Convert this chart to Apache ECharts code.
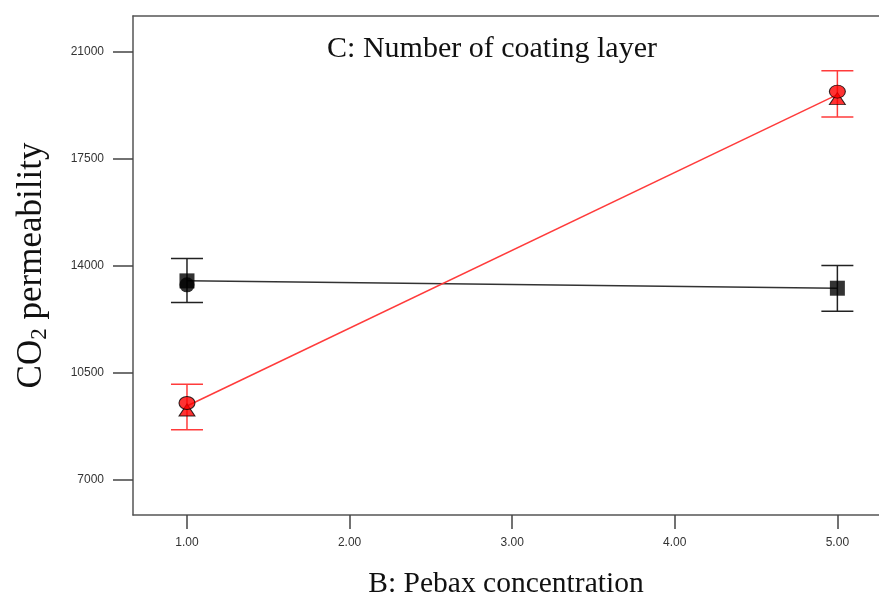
<!DOCTYPE html>
<html>
	<head>
		<meta charset="utf-8">
		<title></title>
		<script type="text/javascript" src="https://cdn.jsdelivr.net/npm/echarts@6/dist/echarts.min.js"></script>
	</head>
	<body style="margin:0">
		<div id="main" style="width: 879px;height:601px;"></div>
	</body>
	<script type="text/javascript">
		// data
		var xTicks = [1, 2, 3, 4, 5];
		var yTicks = [7000, 10500, 14000, 17500, 21000];
		var pebax = [1, 5];
		var blackMean = [13510, 13270];
		var blackLow = [12800, 12520];
		var blackHigh = [14240, 14010];
		var redMean = [9420, 19600];
		var redLow = [8640, 18870];
		var redHigh = [10130, 20380];

		var myChart = echarts.init(document.getElementById('main'));

		function pairs(vals) {
			return pebax.map(function (x, i) { return [x, vals[i]]; });
		}
		function barData(low, high) {
			return pebax.map(function (x, i) { return [x, low[i], high[i]]; });
		}
		function errorBar(color) {
			return function (params, api) {
				var top = api.coord([api.value(0), api.value(2)]);
				var bot = api.coord([api.value(0), api.value(1)]);
				var st = { stroke: color, lineWidth: 1.5 };
				return {
					type: 'group',
					children: [
						{ type: 'line', shape: { x1: top[0], y1: top[1], x2: bot[0], y2: bot[1] }, style: st },
						{ type: 'line', shape: { x1: top[0] - 16, y1: top[1], x2: top[0] + 16, y2: top[1] }, style: st },
						{ type: 'line', shape: { x1: bot[0] - 16, y1: bot[1], x2: bot[0] + 16, y2: bot[1] }, style: st }
					]
				};
			};
		}

		var serif = '"Liberation Serif", "Times New Roman", serif';

		myChart.setOption({
			animation: false,
			title: {
				text: 'C: Number of coating layer',
				left: 487,
				textAlign: 'center',
				top: 29,
				textStyle: { fontFamily: serif, fontSize: 30, fontWeight: 'normal', color: '#111' }
			},
			grid: {
				left: 133, top: 16, right: 0, bottom: 86,
				outerBoundsMode: 'none'
			},
			xAxis: [{
				type: 'value',
				min: 0.668, max: 5.256,
				name: 'B: Pebax concentration',
				nameLocation: 'middle',
				nameGap: 54,
				nameTextStyle: { fontFamily: serif, fontSize: 29.5, color: '#111' },
				axisLine: { lineStyle: { color: '#555', width: 1.5 } },
				axisTick: { show: true, length: 14, customValues: xTicks, lineStyle: { color: '#444', width: 1.5 } },
				axisLabel: {
					customValues: xTicks, margin: 22,
					fontFamily: 'Liberation Sans', fontSize: 12, color: '#333',
					formatter: function (v) { return v.toFixed(2); }
				},
				splitLine: { show: false }
			}, {
				// top border of the plot box
				type: 'value', position: 'top',
				min: 0.668, max: 5.256,
				axisLine: { show: true, lineStyle: { color: '#555', width: 1.5 } },
				axisTick: { show: false },
				axisLabel: { show: false },
				splitLine: { show: false }
			}],
			yAxis: {
				type: 'value',
				min: 5855, max: 22170,
				name: '{n|CO}{s|2}{n| permeability}',
				nameLocation: 'middle',
				nameGap: 82,
				nameTextStyle: {
					rich: {
						n: { fontFamily: serif, fontSize: 35, color: '#111' },
						s: { fontFamily: serif, fontSize: 23, color: '#111', verticalAlign: 'bottom', padding: [16, 0, 0, 0] }
					}
				},
				axisLine: { show: true, lineStyle: { color: '#555', width: 1.5 } },
				axisTick: { show: true, length: 20, customValues: yTicks, lineStyle: { color: '#444', width: 1.5 } },
				axisLabel: {
					customValues: yTicks, margin: 29,
					fontFamily: 'Liberation Sans', fontSize: 12, color: '#333',
					formatter: function (v) { return String(v); }
				},
				splitLine: { show: false }
			},
			series: [
				{
					type: 'line', data: pairs(blackMean), symbol: 'none',
					lineStyle: { color: '#333', width: 1.5 }, z: 2
				},
				{
					type: 'line', data: pairs(redMean), symbol: 'none',
					lineStyle: { color: '#ff3b3b', width: 1.5 }, z: 2
				},
				{
					type: 'custom', data: barData(blackLow, blackHigh),
					renderItem: errorBar('#222'), z: 3
				},
				{
					type: 'custom', data: barData(redLow, redHigh),
					renderItem: errorBar('#ff3b3b'), z: 3
				},
				// black design points
				{
					type: 'scatter', data: [[pebax[0], blackMean[0]]], symbol: 'circle', symbolSize: 15,
					symbolOffset: [0, 4], itemStyle: { color: '#000' }, z: 4
				},
				{
					type: 'scatter', data: pairs(blackMean), symbol: 'rect', symbolSize: 15,
					itemStyle: { color: '#000' }, z: 4
				},
				// red design points
				{
					type: 'scatter', data: pairs(redMean), symbol: 'triangle', symbolSize: [16, 12],
					symbolOffset: [0, 4],
					itemStyle: { color: '#ff0000', borderColor: '#000', borderWidth: 1 }, z: 4
				},
				{
					type: 'scatter', data: pairs(redMean), symbol: 'circle', symbolSize: [16, 13],
					symbolOffset: [0, -3],
					itemStyle: { color: '#ff0000', borderColor: '#000', borderWidth: 1 }, z: 5
				}
			]
		});
	</script>
</html>
